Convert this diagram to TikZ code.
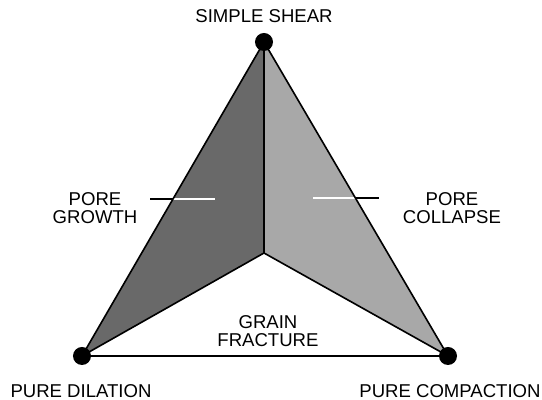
\documentclass[tikz,border=0pt]{standalone}
\usepackage{fontspec}
\setmainfont{Liberation Sans}
\usetikzlibrary{positioning}
\tikzset{
  corner/.style={circle, fill=black, inner sep=0pt, minimum size=0.45cm},
  regionlabel/.style={font=\fontsize{13.2}{12.8}\selectfont, align=center, inner sep=0pt},
  edge/.style={draw=black, line width=1.15pt, line join=round},
  leader/.style={line width=0.8pt},
}

\begin{document}
\begin{tikzpicture}[x=0.025cm, y=0.025cm]
  \useasboundingbox (0,0) rectangle (542,400);
  % corners of the triangle and the inner point
  \coordinate (shear) at (264,358);
  \coordinate (dilation) at (82,44);
  \coordinate (compaction) at (448,44);
  \coordinate (mid) at (264,147);
  % shaded fields
  \fill[black!59] (shear) -- (dilation) -- (mid) -- cycle;
  \fill[black!34] (shear) -- (mid) -- (compaction) -- cycle;
  % leader lines, white where they lie on a field
  \coordinate (growthA) at (150,201);
  \coordinate (growthB) at (215,201);
  \coordinate (collapseA) at (313,202);
  \coordinate (collapseB) at (379,202);
  \draw[leader] (growthA) -- (growthB);
  \draw[leader] (collapseA) -- (collapseB);
  \begin{scope}
    \clip (shear) -- (dilation) -- (mid) -- cycle;
    \draw[leader, white] (growthA) -- (growthB);
  \end{scope}
  \begin{scope}
    \clip (shear) -- (mid) -- (compaction) -- cycle;
    \draw[leader, white] (collapseA) -- (collapseB);
  \end{scope}
  % outlines
  \draw[edge] (dilation) -- (shear) -- (compaction) -- (mid) -- (dilation) -- (compaction);
  \draw[edge] (shear) -- (mid);
  \foreach \v in {shear,dilation,compaction}
    \node[corner] (\v-dot) at (\v) {};
  % labels
  \node[regionlabel, above=0.25cm of shear-dot] (shearlabel) {SIMPLE SHEAR};
  \node[regionlabel] (dilationlabel) at (81,8.5) {PURE DILATION};
  \node[regionlabel] (compactionlabel) at (450,8.5) {PURE COMPACTION};
  \node[regionlabel] (growthlabel) at (95,192) {PORE\\GROWTH};
  \node[regionlabel] (collapselabel) at (452,192) {PORE\\COLLAPSE};
  \node[regionlabel] (fracturelabel) at (268,69) {GRAIN\\FRACTURE};
\end{tikzpicture}
\end{document}
